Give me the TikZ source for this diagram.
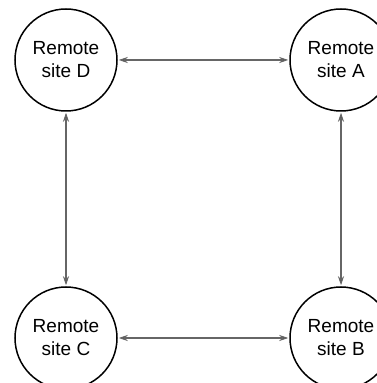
\documentclass[tikz,border=0pt]{standalone}
\usepackage{fontspec}
\setmainfont{Liberation Sans}
\usetikzlibrary{positioning,arrows.meta}

\begin{document}
\begin{tikzpicture}[x=1pt, y=1pt, on grid, node distance=278pt and 275pt, site/.style={circle, draw, line width=1.5pt, minimum size=102pt, inner sep=0pt, align=center, font=\fontsize{19}{23}\selectfont}, link/.style={{Stealth[length=9pt,width=6pt]}-{Stealth[length=9pt,width=6pt]}, draw=black!60, line width=1.1pt, shorten <=1pt, shorten >=1pt}]
		\useasboundingbox (0,0) rectangle (377,383);
		\node[site] (D) at (66,323) {Remote\\site D};
		\node[site, right=of D] (A) {Remote\\site A};
		\node[site, below=of D] (C) {Remote\\site C};
		\node[site, below=of A] (B) {Remote\\site B};

		\path[link] (D) edge (A);
		\path[link] (D) edge (C);
		\path[link] (A) edge (B);
		\path[link] (C) edge (B);
	\end{tikzpicture}
\end{document}
